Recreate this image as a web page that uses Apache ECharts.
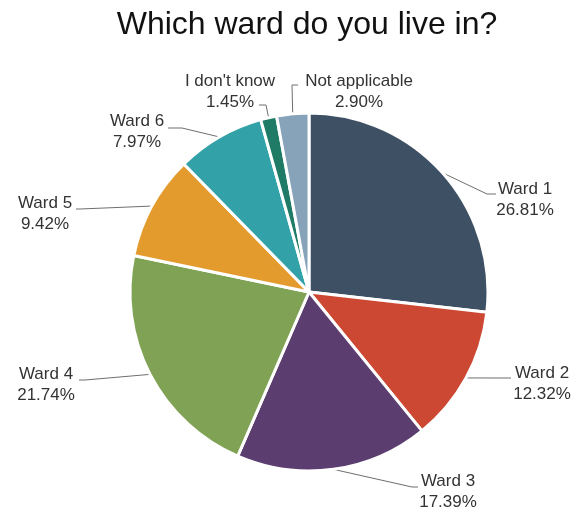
<!DOCTYPE html>
<html>
<head>
<meta charset="utf-8">
<script src="https://cdn.jsdelivr.net/npm/echarts@6/dist/echarts.min.js"></script>
<style>
  html, body { margin: 0; padding: 0; background: #ffffff; }
  #chart { width: 576px; height: 516px; }
</style>
</head>
<body>
<div id="chart"></div>
<script>
// Survey answers: share of respondents per ward (percent)
const categories = ['Ward 1', 'Ward 2', 'Ward 3', 'Ward 4', 'Ward 5', 'Ward 6', "I don't know", 'Not applicable'];
const shares = [26.81, 12.32, 17.39, 21.74, 9.42, 7.97, 1.45, 2.90];
const sliceColors = ['#3e5064', '#cd4832', '#5b3e6f', '#80a254', '#e49b2e', '#33a2a8', '#1f7b66', '#87a3b9'];

// Where each label block sits (centre) and the bend / end of its leader line
const labelPlacement = [
  { x: 525, y: 200, bend: [487, 194], end: [496, 194] },
  { x: 542, y: 384, bend: [505, 378], end: [511, 378] },
  { x: 448, y: 492, bend: [412, 487], end: [418, 487] },
  { x: 46,  y: 385, bend: [85, 380],  end: [79, 380] },
  { x: 45,  y: 214, bend: [80, 209],  end: [76, 209] },
  { x: 137, y: 132, bend: [182, 128], end: [168, 128] },
  { x: 230, y: 92,  bend: [266, 105], end: [259, 105] },
  { x: 359, y: 92,  bend: [292, 85],  end: [298, 85] }
];

const chart = echarts.init(document.getElementById('chart'), null, { renderer: 'canvas' });

const pieData = categories.map((name, i) => ({
  name: name,
  value: shares[i],
  itemStyle: { color: sliceColors[i] }
}));

chart.setOption({
  backgroundColor: '#ffffff',
  animation: false,
  title: {
    text: 'Which ward do you live in?',
    left: 307,
    top: 9,
    padding: 0,
    textAlign: 'center',
    textStyle: {
      fontFamily: 'Liberation Sans, Arial, sans-serif',
      fontSize: 32,
      fontWeight: 'normal',
      color: '#111111'
    }
  },
  series: [{
    type: 'pie',
    center: [309, 292],
    radius: 179,
    startAngle: 90,
    clockwise: true,
    avoidLabelOverlap: false,
    data: pieData,
    itemStyle: { borderColor: '#ffffff', borderWidth: 3 },
    emphasis: { disabled: true },
    label: {
      show: true,
      position: 'outside',
      formatter: p => p.name + '\n' + p.value.toFixed(2) + '%',
      fontFamily: 'Liberation Sans, Arial, sans-serif',
      fontSize: 17,
      lineHeight: 21,
      color: '#333333',
      align: 'center'
    },
    labelLine: {
      show: true,
      length: 20,
      length2: 10,
      lineStyle: { color: '#6f6f6f', width: 1 }
    },
    labelLayout: function (params) {
      const place = labelPlacement[params.dataIndex];
      const pts = params.labelLinePoints;
      const start = pts ? [pts[0][0], pts[0][1]] : place.bend;
      return {
        x: place.x,
        y: place.y,
        align: 'center',
        verticalAlign: 'middle',
        labelLinePoints: [start, place.bend, place.end]
      };
    }
  }]
});
</script>
</body>
</html>
